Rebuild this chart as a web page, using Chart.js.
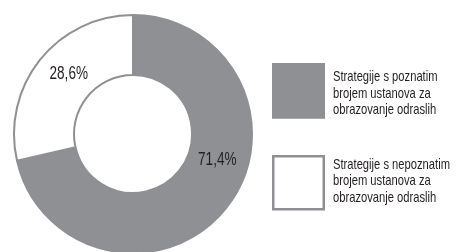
<!DOCTYPE html>
<html>
<head>
<meta charset="utf-8">
<script src="https://cdn.jsdelivr.net/npm/chart.js@4.4.1/dist/chart.umd.min.js"></script>
<style>
  html, body { margin: 0; padding: 0; background: #fff; overflow: hidden; }
  #wrap { position: relative; width: 466px; height: 254px; }
</style>
</head>
<body>
<div id="wrap"><canvas id="chart1"></canvas></div>
<script>
// Share of strategies, known vs unknown number of adult education institutions
const labels = [
  ['Strategije s poznatim', 'brojem ustanova za', 'obrazovanje odraslih'],
  ['Strategije s nepoznatim', 'brojem ustanova za', 'obrazovanje odraslih']
];
const values = [71.4, 28.6];
const valueLabels = ['71,4%', '28,6%'];

const gray = '#8f9094';
const textColor = '#231f20';
const fontName = '"Liberation Sans Narrow", "Arial Narrow", "Liberation Sans", sans-serif';

// no narrow face installed, so squeeze the text horizontally
function narrowText(ctx, t, x, y, sx) {
  ctx.save();
  ctx.translate(x, y);
  ctx.scale(sx, 1);
  ctx.fillText(t, 0, 0);
  ctx.restore();
}

// Percent labels inside the ring, placed by angle (deg) and radius from the center
const labelPlugin = {
  id: 'valueLabels',
  afterDatasetsDraw(chart) {
    const ctx = chart.ctx;
    const meta = chart.getDatasetMeta(0);
    const spots = [[16.7, 88], [223.4, 88.4]];
    ctx.save();
    ctx.font = '18px ' + fontName;
    ctx.fillStyle = textColor;
    ctx.textAlign = 'center';
    ctx.textBaseline = 'middle';
    const sx = Math.min(1, 38.5 / ctx.measureText(valueLabels[0]).width);
    meta.data.forEach((arc, i) => {
      const a = spots[i][0] * Math.PI / 180;
      narrowText(ctx, valueLabels[i], arc.x + spots[i][1] * Math.cos(a), arc.y + spots[i][1] * Math.sin(a) + 1, sx);
    });
    ctx.restore();
  }
};

// Legend on the right: big boxes and three-line labels
const legendPlugin = {
  id: 'sideLegend',
  afterDraw(chart) {
    const ctx = chart.ctx;
    const ds = chart.data.datasets[0];
    const tops = [63, 155];
    const baselines = [81, 168.5];
    ctx.save();
    ctx.font = '15px ' + fontName;
    ctx.textBaseline = 'alphabetic';
    const sx = Math.min(1, 117 / ctx.measureText(labels[1][0]).width);
    labels.forEach((lines, i) => {
      const y = tops[i];
      ctx.fillStyle = ds.backgroundColor[i];
      ctx.fillRect(272, y, 53, 55.5);
      ctx.strokeStyle = gray;
      ctx.lineWidth = 2.5;
      ctx.strokeRect(273.25, y + 1.25, 50.5, 53);
      ctx.fillStyle = textColor;
      lines.forEach((t, j) => {
        narrowText(ctx, t, 333, baselines[i] + j * 16.5, sx);
      });
    });
    ctx.restore();
  }
};

let ctx1 = document.getElementById('chart1').getContext('2d');
let chart1 = new Chart(ctx1, {
  type: 'doughnut',
  data: {
    labels: labels,
    datasets: [{
      data: values,
      backgroundColor: [gray, '#ffffff'],
      borderColor: gray,
      borderWidth: 2
    }]
  },
  options: {
    responsive: true,
    maintainAspectRatio: false,
    animation: false,
    cutout: 59,
    layout: { padding: { left: 13, right: 213, top: 14, bottom: 0 } },
    plugins: {
      legend: { display: false },
      tooltip: { enabled: false }
    }
  },
  plugins: [labelPlugin, legendPlugin]
});
</script>
</body>
</html>
